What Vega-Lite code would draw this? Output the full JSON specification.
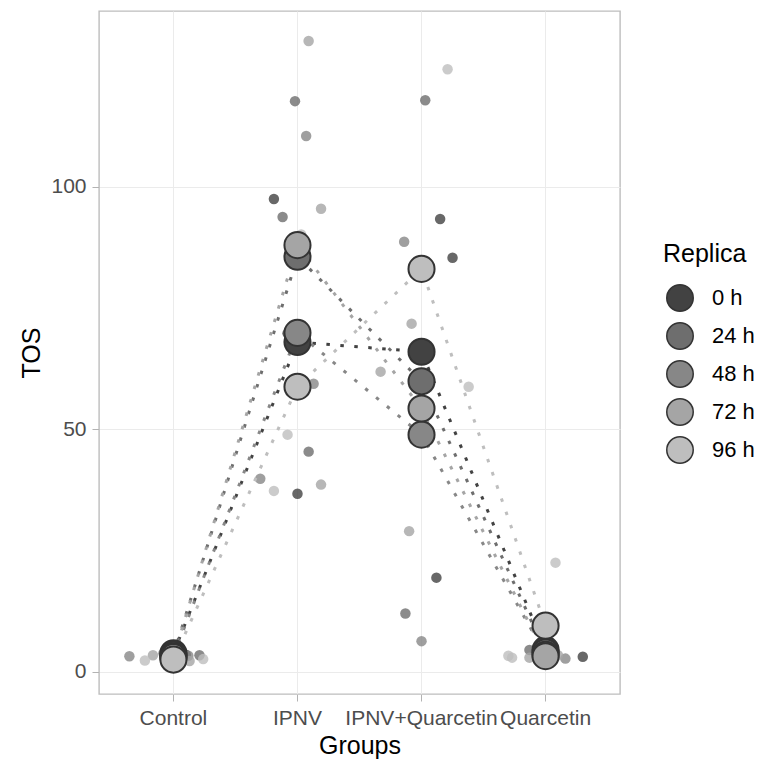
{
  "$schema": "https://vega.github.io/schema/vega-lite/v6.json",
  "width": 521,
  "height": 683,
  "autosize": "none",
  "padding": {"left": 99, "top": 11, "right": 139, "bottom": 66},
  "background": "white",
  "config": {
    "view": {"stroke": "#BDBDBD", "strokeWidth": 1.4},
    "font": "Liberation Sans",
    "axis": {
      "domain": false,
      "grid": true,
      "gridColor": "#EBEBEB",
      "gridWidth": 1,
      "tickColor": "#B3B3B3",
      "tickSize": 7,
      "tickWidth": 1,
      "labelColor": "#4D4D4D",
      "labelFontSize": 21,
      "labelPadding": 6,
      "titleColor": "#000000",
      "titleFontSize": 25,
      "titleFontWeight": "normal"
    }
  },
  "datasets": {
    "points": [
      {"group": "Control", "replica": "0 h", "TOS": 4.2, "jitter": -0.04},
      {"group": "Control", "replica": "0 h", "TOS": 3.6, "jitter": 0.06},
      {"group": "Control", "replica": "0 h", "TOS": 3.5, "jitter": 0.1},
      {"group": "Control", "replica": "24 h", "TOS": 3.4, "jitter": 0.21},
      {"group": "Control", "replica": "24 h", "TOS": 3.8, "jitter": -0.08},
      {"group": "Control", "replica": "24 h", "TOS": 3.3, "jitter": 0.03},
      {"group": "Control", "replica": "48 h", "TOS": 3.2, "jitter": -0.355},
      {"group": "Control", "replica": "48 h", "TOS": 3.3, "jitter": 0.12},
      {"group": "Control", "replica": "48 h", "TOS": 3.1, "jitter": -0.02},
      {"group": "Control", "replica": "72 h", "TOS": 3.4, "jitter": -0.165},
      {"group": "Control", "replica": "72 h", "TOS": 2.2, "jitter": 0.13},
      {"group": "Control", "replica": "72 h", "TOS": 3.4, "jitter": 0.0},
      {"group": "Control", "replica": "96 h", "TOS": 2.3, "jitter": -0.23},
      {"group": "Control", "replica": "96 h", "TOS": 2.6, "jitter": 0.24},
      {"group": "Control", "replica": "96 h", "TOS": 2.6, "jitter": -0.05},
      {"group": "IPNV", "replica": "0 h", "TOS": 36.7, "jitter": 0.0},
      {"group": "IPNV", "replica": "0 h", "TOS": 69.8, "jitter": -0.08},
      {"group": "IPNV", "replica": "0 h", "TOS": 97.5, "jitter": -0.19},
      {"group": "IPNV", "replica": "24 h", "TOS": 117.7, "jitter": -0.02},
      {"group": "IPNV", "replica": "24 h", "TOS": 93.8, "jitter": -0.12},
      {"group": "IPNV", "replica": "24 h", "TOS": 45.4, "jitter": 0.09},
      {"group": "IPNV", "replica": "48 h", "TOS": 110.5, "jitter": 0.07},
      {"group": "IPNV", "replica": "48 h", "TOS": 39.8, "jitter": -0.3},
      {"group": "IPNV", "replica": "48 h", "TOS": 59.4, "jitter": 0.13},
      {"group": "IPNV", "replica": "72 h", "TOS": 95.5, "jitter": 0.19},
      {"group": "IPNV", "replica": "72 h", "TOS": 38.6, "jitter": 0.19},
      {"group": "IPNV", "replica": "72 h", "TOS": 130.1, "jitter": 0.09},
      {"group": "IPNV", "replica": "96 h", "TOS": 48.9, "jitter": -0.08},
      {"group": "IPNV", "replica": "96 h", "TOS": 37.3, "jitter": -0.19},
      {"group": "IPNV", "replica": "96 h", "TOS": 90.2, "jitter": 0.03},
      {"group": "IPNV+Quarcetin", "replica": "0 h", "TOS": 93.4, "jitter": 0.15},
      {"group": "IPNV+Quarcetin", "replica": "0 h", "TOS": 19.4, "jitter": 0.12},
      {"group": "IPNV+Quarcetin", "replica": "0 h", "TOS": 85.4, "jitter": 0.25},
      {"group": "IPNV+Quarcetin", "replica": "24 h", "TOS": 117.9, "jitter": 0.03},
      {"group": "IPNV+Quarcetin", "replica": "24 h", "TOS": 12.0, "jitter": -0.13},
      {"group": "IPNV+Quarcetin", "replica": "24 h", "TOS": 49.8, "jitter": -0.02},
      {"group": "IPNV+Quarcetin", "replica": "48 h", "TOS": 88.7, "jitter": -0.14},
      {"group": "IPNV+Quarcetin", "replica": "48 h", "TOS": 6.3, "jitter": 0.0},
      {"group": "IPNV+Quarcetin", "replica": "48 h", "TOS": 51.7, "jitter": 0.02},
      {"group": "IPNV+Quarcetin", "replica": "72 h", "TOS": 71.8, "jitter": -0.08},
      {"group": "IPNV+Quarcetin", "replica": "72 h", "TOS": 29.0, "jitter": -0.1},
      {"group": "IPNV+Quarcetin", "replica": "72 h", "TOS": 61.9, "jitter": -0.33},
      {"group": "IPNV+Quarcetin", "replica": "96 h", "TOS": 124.3, "jitter": 0.21},
      {"group": "IPNV+Quarcetin", "replica": "96 h", "TOS": 58.8, "jitter": 0.38},
      {"group": "IPNV+Quarcetin", "replica": "96 h", "TOS": 66.2, "jitter": -0.01},
      {"group": "Quarcetin", "replica": "0 h", "TOS": 3.1, "jitter": 0.3},
      {"group": "Quarcetin", "replica": "0 h", "TOS": 5.5, "jitter": -0.05},
      {"group": "Quarcetin", "replica": "0 h", "TOS": 4.9, "jitter": 0.05},
      {"group": "Quarcetin", "replica": "24 h", "TOS": 4.5, "jitter": -0.13},
      {"group": "Quarcetin", "replica": "24 h", "TOS": 3.8, "jitter": 0.06},
      {"group": "Quarcetin", "replica": "24 h", "TOS": 3.7, "jitter": -0.02},
      {"group": "Quarcetin", "replica": "48 h", "TOS": 2.7, "jitter": 0.16},
      {"group": "Quarcetin", "replica": "48 h", "TOS": 4.0, "jitter": -0.08},
      {"group": "Quarcetin", "replica": "48 h", "TOS": 3.8, "jitter": 0.04},
      {"group": "Quarcetin", "replica": "72 h", "TOS": 2.9, "jitter": -0.13},
      {"group": "Quarcetin", "replica": "72 h", "TOS": 3.4, "jitter": 0.1},
      {"group": "Quarcetin", "replica": "72 h", "TOS": 3.3, "jitter": -0.04},
      {"group": "Quarcetin", "replica": "96 h", "TOS": 3.3, "jitter": -0.3},
      {"group": "Quarcetin", "replica": "96 h", "TOS": 2.9, "jitter": -0.27},
      {"group": "Quarcetin", "replica": "96 h", "TOS": 22.5, "jitter": 0.08}
    ],
    "means": [
      {"group": "Control", "replica": "0 h", "TOS": 3.8},
      {"group": "Control", "replica": "24 h", "TOS": 3.5},
      {"group": "Control", "replica": "48 h", "TOS": 3.2},
      {"group": "Control", "replica": "72 h", "TOS": 3.0},
      {"group": "Control", "replica": "96 h", "TOS": 2.5},
      {"group": "IPNV", "replica": "0 h", "TOS": 68.0},
      {"group": "IPNV", "replica": "24 h", "TOS": 85.6},
      {"group": "IPNV", "replica": "48 h", "TOS": 69.9},
      {"group": "IPNV", "replica": "72 h", "TOS": 88.0},
      {"group": "IPNV", "replica": "96 h", "TOS": 58.8},
      {"group": "IPNV+Quarcetin", "replica": "0 h", "TOS": 66.0},
      {"group": "IPNV+Quarcetin", "replica": "24 h", "TOS": 59.9},
      {"group": "IPNV+Quarcetin", "replica": "48 h", "TOS": 48.9},
      {"group": "IPNV+Quarcetin", "replica": "72 h", "TOS": 54.3},
      {"group": "IPNV+Quarcetin", "replica": "96 h", "TOS": 83.1},
      {"group": "Quarcetin", "replica": "0 h", "TOS": 4.5},
      {"group": "Quarcetin", "replica": "24 h", "TOS": 4.0},
      {"group": "Quarcetin", "replica": "48 h", "TOS": 3.5},
      {"group": "Quarcetin", "replica": "72 h", "TOS": 3.2},
      {"group": "Quarcetin", "replica": "96 h", "TOS": 9.5}
    ]
  },
  "encoding": {
    "x": {
      "field": "group",
      "type": "nominal",
      "sort": ["Control", "IPNV", "IPNV+Quarcetin", "Quarcetin"],
      "scale": {"type": "band", "paddingInner": 0, "paddingOuter": 0.1},
      "axis": {"title": "Groups", "labelAngle": 0, "labelOverlap": false, "labelBound": false, "bandPosition": 0.5, "titlePadding": 5}
    },
    "y": {
      "field": "TOS",
      "type": "quantitative",
      "scale": {"domain": [-4.6, 136.3], "nice": false, "zero": false},
      "axis": {"values": [0, 50, 100], "title": "TOS", "titlePadding": 6}
    }
  },
  "layer": [
    {
      "data": {"name": "points"},
      "mark": {"type": "circle", "size": 110, "opacity": 0.8},
      "encoding": {
        "xOffset": {"field": "jitter", "type": "quantitative", "scale": {"domain": [-0.5, 0.5]}},
        "fill": {
          "field": "replica",
          "type": "nominal",
          "scale": {"domain": ["96 h", "72 h", "48 h", "24 h", "0 h"], "range": ["#BEBEBE", "#A5A5A5", "#878787", "#6E6E6E", "#424242"]},
          "legend": null
        }
      }
    },
    {
      "data": {"name": "means"},
      "mark": {"type": "line", "strokeDash": [3.5, 10.5], "strokeWidth": 3, "strokeCap": "butt"},
      "encoding": {
        "stroke": {
          "field": "replica",
          "type": "nominal",
          "scale": {"domain": ["96 h", "72 h", "48 h", "24 h", "0 h"], "range": ["#BEBEBE", "#A5A5A5", "#878787", "#6E6E6E", "#424242"]},
          "legend": null
        }
      }
    },
    {
      "data": {"name": "means"},
      "mark": {"type": "point", "filled": true, "size": 680, "opacity": 1, "stroke": "#333333", "strokeWidth": 2},
      "encoding": {
        "color": {
          "field": "replica",
          "type": "nominal",
          "title": "Replica",
          "scale": {"domain": ["0 h", "24 h", "48 h", "72 h", "96 h"], "range": ["#424242", "#6E6E6E", "#878787", "#A5A5A5", "#BEBEBE"]},
          "legend": {
            "orient": "none",
            "legendX": 564,
            "legendY": 231,
            "padding": 0,
            "titleFontSize": 25,
            "titleFontWeight": "normal",
            "titleColor": "#000000",
            "titlePadding": 17,
            "labelFontSize": 22,
            "labelColor": "#000000",
            "labelOffset": 18,
            "rowPadding": 4,
            "symbolOffset": 3,
            "symbolType": "circle",
            "symbolSize": 700,
            "symbolStrokeColor": "#333333",
            "symbolStrokeWidth": 1.5,
            "symbolOpacity": 1
          }
        }
      }
    }
  ]
}
